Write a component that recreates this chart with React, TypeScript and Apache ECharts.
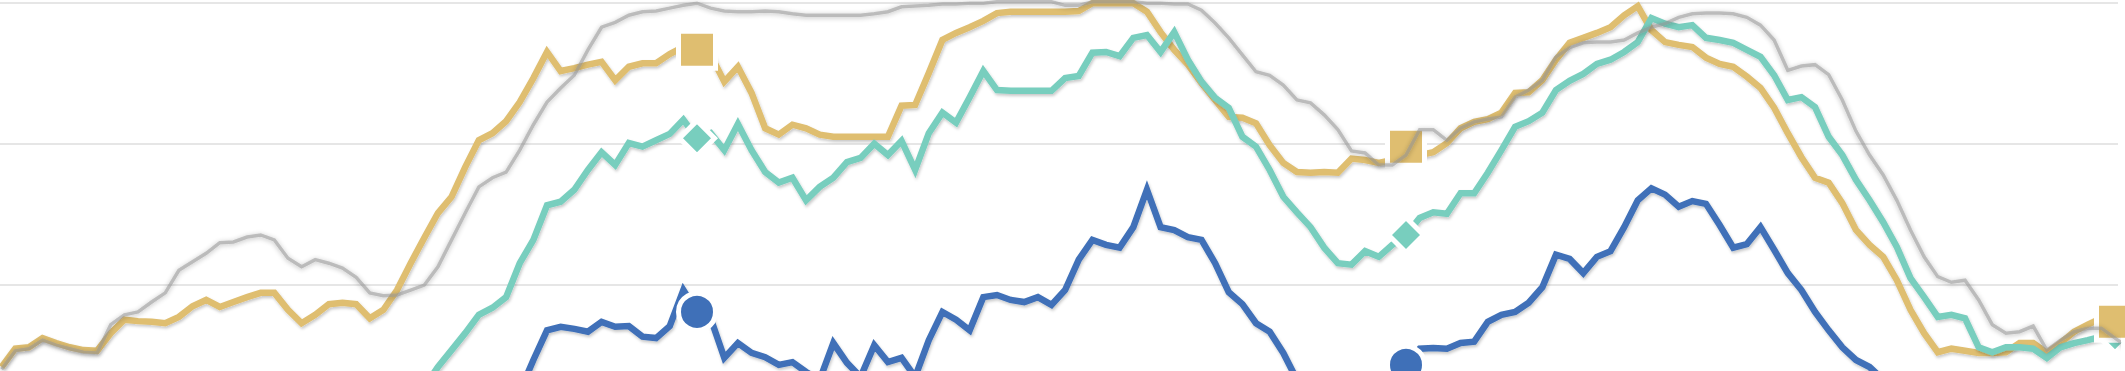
import React, { useEffect, useRef } from "react";
import * as echarts from "echarts";

// x = week index (0..156), y = value; gridlines every 20
const gold: (number | null)[] = [
  48.4, 51.0, 51.2, 52.5, 51.8, 51.2, 50.8, 50.7, 53.2, 55.1,
  54.9, 54.8, 54.6, 55.5, 57.0, 57.9, 56.9, 57.6, 58.3, 58.9,
  58.9, 56.5, 54.6, 55.8, 57.3, 57.5, 57.3, 55.3, 56.5, 59.3,
  63.1, 66.7, 70.2, 72.5, 76.7, 80.5, 81.5, 83.2, 85.9, 89.3,
  93.0, 90.3, 90.7, 91.2, 91.6, 89.0, 90.9, 91.4, 91.4, 92.7,
  93.7, 93.3, 92.6, 88.8, 90.9, 87.2, 82.2, 81.3, 82.7, 82.2,
  81.3, 81.0, 81.0, 81.0, 81.0, 81.0, 85.4, 85.5, 90.0, 94.7,
  95.7, 96.5, 97.4, 98.5, 98.7, 98.7, 98.7, 98.7, 98.7, 98.8,
  99.9, 99.9, 99.9, 99.9, 98.7, 95.8, 93.3, 91.2, 88.6, 86.2,
  83.8, 83.7, 82.9, 79.8, 77.3, 76.0, 75.9, 76.0, 75.9, 77.9,
  77.7, 77.3, 77.7, 79.6, 78.4, 78.8, 80.1, 82.2, 83.1, 83.5,
  84.4, 87.2, 87.3, 89.0, 91.9, 94.3, 95.0, 95.7, 96.5, 98.2,
  99.5, 96.1, 94.4, 94.0, 93.7, 92.2, 91.3, 90.9, 89.5, 87.9,
  85.1, 81.5, 78.1, 75.2, 74.5, 71.6, 67.8, 65.7, 64.0, 60.7,
  56.5, 53.2, 50.5, 51.0, 50.7, 50.4, 50.4, 50.5, 51.8, 51.8,
  50.4, 51.8, 53.4, 54.4, 55.3, 54.8, 55.8,
];

const teal: (number | null)[] = [
  null, null, null, null, null, null, null, null, null, null,
  null, null, null, null, null, null, null, null, null, null,
  null, null, null, null, null, null, null, null, null, null,
  42.3, 45.6, 48.4, 50.8, 53.2, 55.8, 56.8, 58.3, 63.1, 66.4,
  71.3, 71.8, 73.5, 76.3, 78.8, 77.0, 80.1, 79.6, 80.5, 81.4,
  83.4, 80.8, 81.5, 79.1, 82.8, 79.1, 76.0, 74.5, 75.2, 72.0,
  73.9, 75.2, 77.4, 78.0, 80.0, 78.4, 80.4, 76.3, 81.5, 84.4,
  83.0, 86.6, 90.3, 87.6, 87.5, 87.5, 87.5, 87.5, 89.3, 89.6,
  92.9, 93.0, 92.4, 95.0, 95.4, 93.0, 95.8, 91.9, 88.8, 86.5,
  85.1, 81.0, 79.6, 76.3, 72.5, 70.3, 68.2, 65.3, 63.1, 62.9,
  64.8, 64.0, 65.7, 67.1, 69.5, 70.3, 70.1, 73.0, 73.0, 75.9,
  79.1, 82.4, 83.2, 84.4, 87.6, 88.9, 89.9, 91.3, 91.9, 93.0,
  94.4, 97.8, 97.0, 96.5, 96.8, 95.0, 94.7, 94.3, 93.3, 92.3,
  89.7, 86.2, 86.6, 85.2, 81.0, 78.4, 74.9, 72.0, 68.9, 65.4,
  61.0, 58.3, 55.5, 55.8, 55.3, 51.2, 50.5, 51.2, 51.2, 51.0,
  49.7, 51.2, 51.8, 52.2, 52.7, 52.9, 52.2,
];

const blue: (number | null)[] = [
  null, null, null, null, null, null, null, null, null, null,
  null, null, null, null, null, null, null, null, null, null,
  null, null, null, null, null, null, null, null, null, null,
  null, null, null, null, null, null, null, 40.9, 44.9, 49.4,
  53.6, 54.1, 53.8, 53.4, 54.8, 54.1, 54.2, 52.7, 52.5, 54.2,
  59.3, 56.2, 55.3, 49.7, 51.8, 50.4, 49.8, 48.7, 49.1, 47.7,
  46.6, 51.8, 49.0, 47.0, 51.5, 49.1, 49.7, 47.0, 52.2, 56.2,
  55.1, 53.6, 58.3, 58.6, 57.9, 57.6, 58.3, 57.2, 59.3, 63.6,
  66.4, 65.7, 65.3, 68.2, 73.5, 68.2, 67.8, 66.8, 66.4, 63.1,
  59.0, 57.3, 54.6, 53.4, 50.4, 46.6, 44.4, 43.0, 42.3, 43.0,
  43.7, 45.2, 46.9, 48.7, 51.0, 51.1, 51.0, 51.8, 52.0, 54.8,
  55.8, 56.2, 57.5, 59.7, 64.3, 63.7, 61.7, 64.0, 64.8, 68.2,
  72.0, 73.7, 72.8, 71.1, 71.9, 71.5, 68.5, 65.3, 65.8, 68.2,
  65.0, 61.7, 59.3, 56.2, 53.6, 51.2, 49.4, 48.4, 46.6, 44.4,
  null, null, null, null, null, null, null, null, null, null,
  null, null, null, null, null, null, null,
];

const grey: (number | null)[] = [
  48.1, 50.7, 51.0, 52.2, 51.5, 51.0, 50.5, 50.4, 54.4, 55.8,
  56.2, 57.6, 58.9, 62.1, 63.3, 64.5, 66.0, 66.1, 66.8, 67.1,
  66.4, 63.8, 62.6, 63.6, 63.1, 62.4, 61.1, 58.9, 58.5, 58.6,
  59.3, 60.0, 62.6, 66.4, 70.2, 73.9, 75.2, 76.0, 79.1, 82.7,
  85.9, 87.9, 89.7, 93.3, 96.5, 97.2, 98.2, 98.7, 98.8, 99.2,
  99.6, 99.9, 99.2, 98.8, 98.7, 98.7, 98.8, 98.7, 98.4, 98.2,
  98.2, 98.2, 98.2, 98.2, 98.4, 98.7, 99.4, 99.5, 99.6, 99.8,
  99.8, 99.9, 99.9, 100.1, 100.1, 100.1, 100.1, 100.1, 99.6, 99.6,
  100.1, 100.1, 100.1, 100.1, 99.9, 99.9, 99.8, 99.8, 98.9, 97.1,
  95.0, 92.6, 90.2, 89.7, 88.3, 86.2, 85.8, 84.1, 82.0, 79.0,
  78.7, 77.0, 77.0, 78.4, 82.0, 82.0, 80.5, 82.2, 83.1, 83.5,
  83.8, 86.6, 87.6, 89.0, 92.3, 93.6, 94.3, 94.4, 94.4, 94.7,
  95.7, 96.5, 97.0, 97.9, 98.4, 98.5, 98.5, 98.4, 97.9, 96.8,
  94.7, 90.4, 91.0, 91.2, 89.8, 86.2, 81.8, 78.4, 75.6, 72.0,
  67.8, 64.0, 61.2, 60.4, 60.7, 57.9, 54.4, 53.2, 53.4, 54.2,
  50.8, 52.2, 53.4, 53.9, 53.9, 52.5, 51.1,
];

const markerIdx = [51, 103, 155];

const toPairs = (arr: (number | null)[]) =>
  arr.map((v, i) => [i, v]).filter((p) => p[1] != null);
const markerPairs = (arr: (number | null)[]) =>
  markerIdx.filter((i) => arr[i] != null).map((i) => [i, arr[i]]);

const GOLD = "#DFBE70";
const TEAL = "#78CEBE";
const BLUE = "#3F70B8";

export default function App() {
  const ref = useRef<HTMLDivElement>(null);
  useEffect(() => {
    const chart = echarts.init(ref.current!, null, { renderer: "svg" });
    const shadow = {
      shadowColor: "rgba(0,0,0,0.22)",
      shadowBlur: 3,
      shadowOffsetX: 1,
      shadowOffsetY: 2,
    };
    const lineSeries = (name: string, arr: (number | null)[], color: string, z: number) => ({
      type: "line",
      name,
      z,
      data: toPairs(arr),
      symbol: "none",
      clip: false,
      silent: true,
      lineStyle: { color, width: 6.5, join: "miter", ...shadow },
    });
    const markerSeries = (name: string, arr: (number | null)[], color: string, symbol: string, size: number, z: number) => ({
      type: "scatter",
      name,
      z,
      data: markerPairs(arr),
      symbol,
      symbolSize: size,
      clip: false,
      silent: true,
      itemStyle: { color, borderColor: "#ffffff", borderWidth: 5, opacity: 1 },
    });
    chart.setOption({
      animation: false,
      backgroundColor: "#ffffff",
      grid: {
        left: 0,
        top: 2.5,
        width: 2118,
        height: 706.5,
        containLabel: false,
        outerBoundsMode: "none",
      },
      xAxis: {
        type: "value",
        min: -0.12,
        max: 155.22,
        show: false,
      },
      yAxis: {
        type: "value",
        min: 0,
        max: 100,
        interval: 20,
        axisLine: { show: false },
        axisTick: { show: false },
        axisLabel: { show: false },
        splitLine: { show: true, lineStyle: { color: "#dedede", width: 1.5 } },
      },
      series: [
        lineSeries("Gold", gold, GOLD, 2),
        lineSeries("Teal", teal, TEAL, 3),
        lineSeries("Blue", blue, BLUE, 4),
        markerSeries("Blue markers", blue, BLUE, "circle", 37, 10),
        markerSeries("Teal markers", teal, TEAL, "diamond", 35, 11),
        markerSeries("Gold markers", gold, GOLD, "rect", 37, 12),
        {
          type: "line",
          name: "Grey",
          z: 20,
          data: toPairs(grey),
          symbol: "none",
          clip: false,
          silent: true,
          lineStyle: {
            color: "rgba(150,150,150,0.55)",
            width: 3.5,
            join: "miter",
            shadowColor: "rgba(0,0,0,0.45)",
            shadowBlur: 5,
            shadowOffsetY: 1,
          },
        },
      ],
    });
    return () => chart.dispose();
  }, []);
  return (
    <div
      ref={ref}
      style={{ position: "absolute", left: 0, top: 0, width: 2125, height: 371, background: "#fff" }}
    />
  );
}
